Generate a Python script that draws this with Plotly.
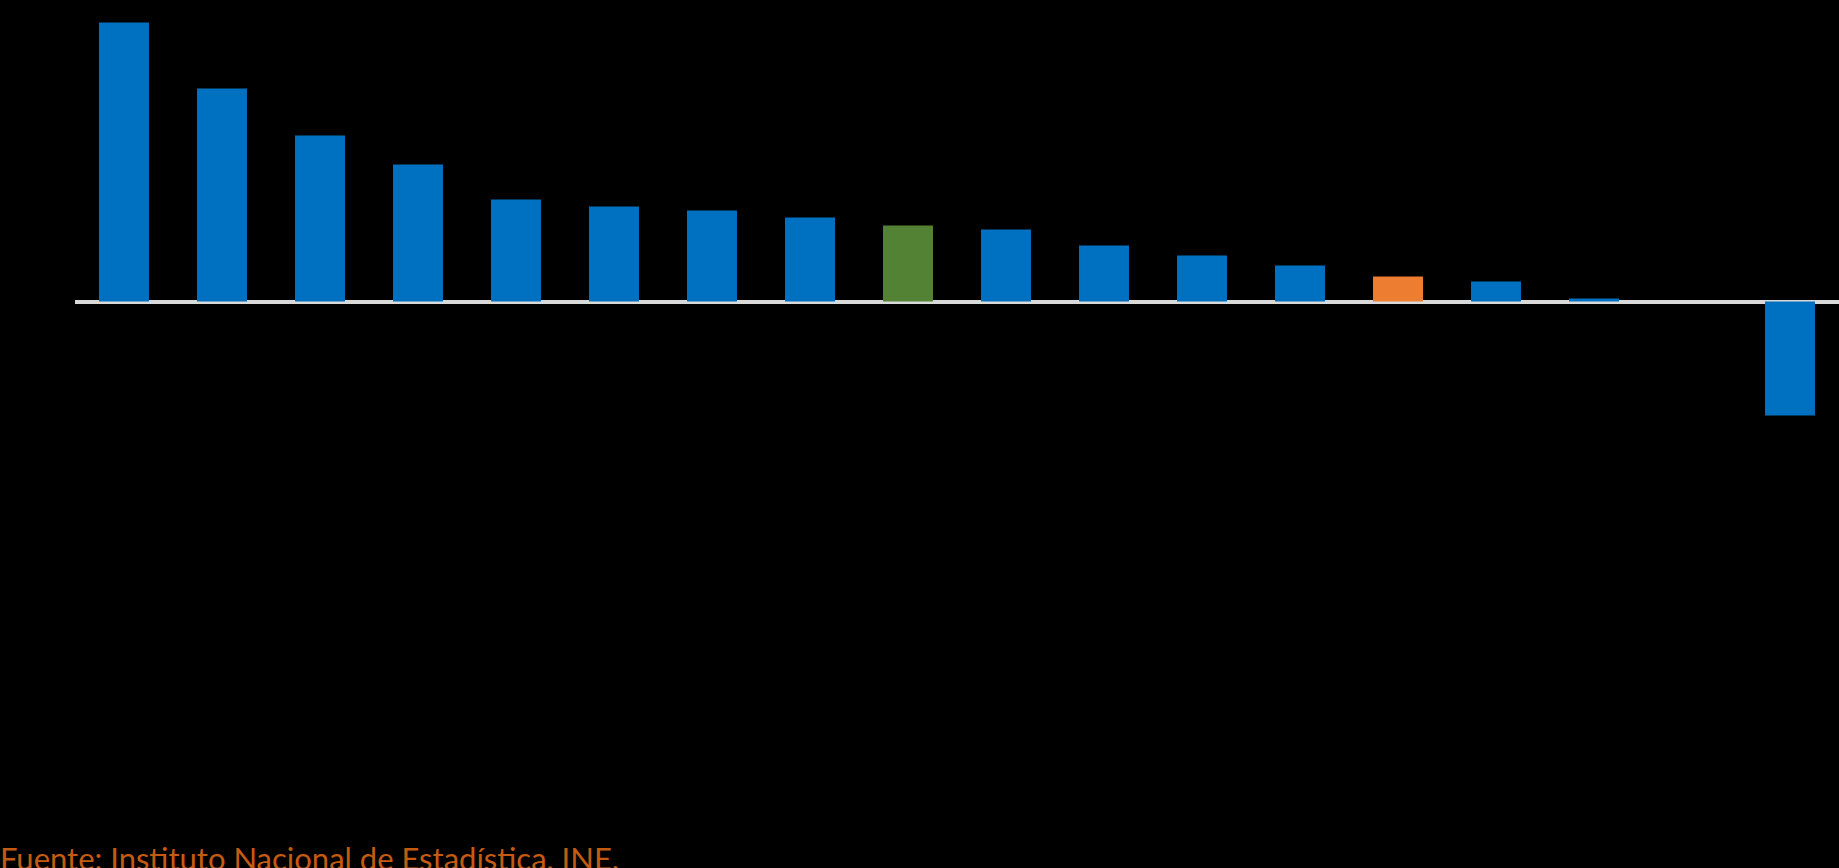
"""
Bar chart by region with the national total highlighted, Fuente: INE.
"""

import plotly.graph_objects as go

# category slots (labels are not visible in the reference)
categories = [str(i) for i in range(1, 19)]
values = [2.79, 2.13, 1.66, 1.37, 1.02, 0.95, 0.91, 0.84, 0.76, 0.72,
          0.56, 0.46, 0.36, 0.25, 0.20, 0.03, 0.0, -1.14]
# which bars are highlighted: green = total, orange = reference region
highlight = {8: "#548235", 13: "#ED7D31"}

BLUE = "#0070C0"
colors = [highlight.get(i, BLUE) for i in range(len(values))]

fig = go.Figure()
fig.add_trace(
    go.Bar(
        x=categories,
        y=values,
        marker_color=colors,
        marker_line_width=0,
        width=0.51,
        showlegend=False,
        hovertemplate="%{y:.2f}<extra></extra>",
    )
)

fig.add_annotation(
    text="Fuente: Instituto Nacional de Estadística, INE.",
    xref="paper",
    yref="paper",
    x=-0.0437,
    y=-0.225,
    xanchor="left",
    yanchor="middle",
    showarrow=False,
    font=dict(family="Lato, Open Sans, sans-serif", size=31, color="#C55A11"),
)

fig.update_layout(
    width=1839,
    height=868,
    margin=dict(l=75, r=0, t=0, b=168),
    paper_bgcolor="#000000",
    plot_bgcolor="#000000",
    xaxis=dict(
        type="category",
        range=[-0.5, 17.5],
        showticklabels=False,
        showgrid=False,
        zeroline=False,
        showline=False,
        ticks="",
    ),
    yaxis=dict(
        range=[-3.985, 3.015],
        showticklabels=False,
        showgrid=False,
        zeroline=True,
        zerolinecolor="#D9D9D9",
        zerolinewidth=4,
        layer="above traces",
        ticks="",
    ),
)

# drop the browser's default body margin so the figure sits at the corner
fig.write_html(
    "out.html",
    config={"displayModeBar": False},
    post_script="document.body.style.margin='0';document.body.style.background='#000';",
)
